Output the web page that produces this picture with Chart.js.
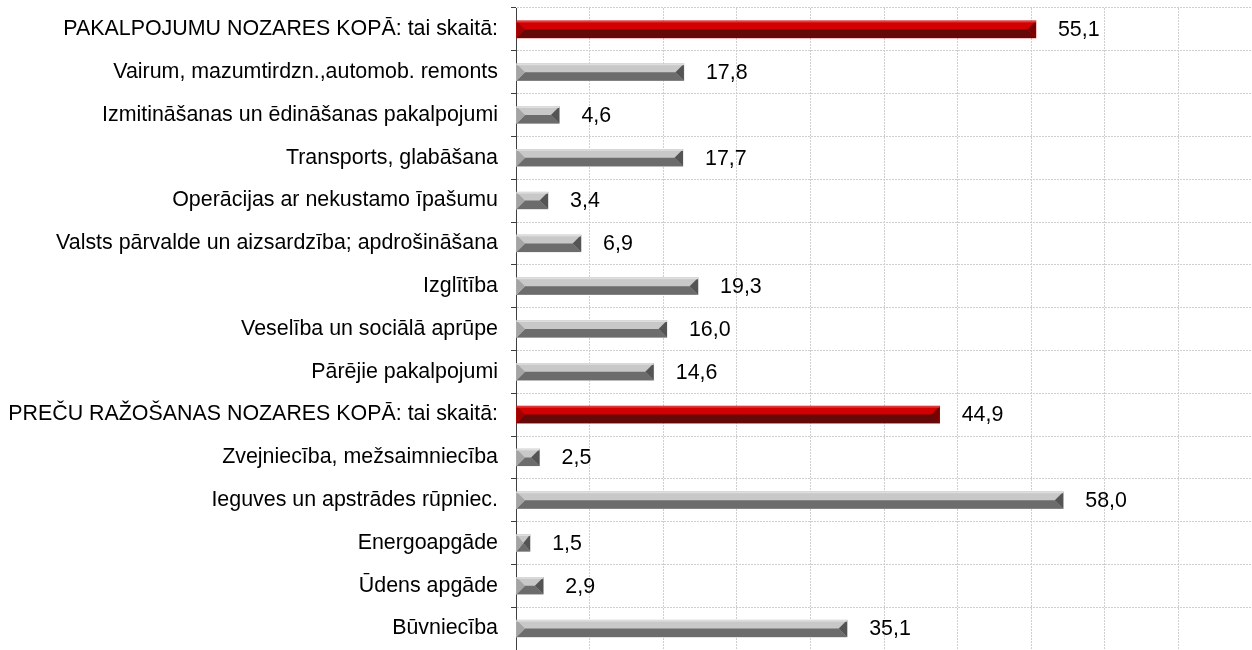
<!DOCTYPE html>
<html>
<head>
<meta charset="utf-8">
<script src="https://cdn.jsdelivr.net/npm/chart.js@4"></script>
<style>
  html, body { margin: 0; padding: 0; background: #fff; }
  #wrap { width: 1252px; height: 650px; }
</style>
</head>
<body>
<div id="wrap"><canvas id="myChart"></canvas></div>
<script>
// nozares
var categories = [
	'PAKALPOJUMU NOZARES KOPĀ: tai skaitā:',
	'Vairum, mazumtirdzn.,automob. remonts',
	'Izmitināšanas un ēdināšanas pakalpojumi',
	'Transports, glabāšana',
	'Operācijas ar nekustamo īpašumu',
	'Valsts pārvalde un aizsardzība; apdrošināšana',
	'Izglītība',
	'Veselība un sociālā aprūpe',
	'Pārējie pakalpojumi',
	'PREČU RAŽOŠANAS NOZARES KOPĀ: tai skaitā:',
	'Zvejniecība, mežsaimniecība',
	'Ieguves un apstrādes rūpniec.',
	'Energoapgāde',
	'Ūdens apgāde',
	'Būvniecība'
]
var values = [55.1, 17.8, 4.6, 17.7, 3.4, 6.9, 19.3, 16.0, 14.6, 44.9, 2.5, 58.0, 1.5, 2.9, 35.1]
var isTotal = [true, false, false, false, false, false, false, false, false, true, false, false, false, false, false]

var axisMax = 78
var axisStep = 7.8

var grayFaces = { top: '#c8c8c8', edge: '#dedede', bottom: '#6c6c6c', left: '#a4a4a4', right: '#545454' }
var redFaces = { top: '#d20000', edge: '#e04040', bottom: '#650808', left: '#a00000', right: '#7a0000' }

function faces(i) { return isTotal[i] ? redFaces : grayFaces }

// рисуем "объемные" торцы поверх столбцов
var bevelPlugin = {
	id: 'bevel',
	afterDatasetsDraw: function (chart) {
		var c = chart.ctx
		chart.getDatasetMeta(0).data.forEach(function (el, i) {
			var f = faces(i)
			var x0 = el.base, x1 = el.x
			var y0 = el.y - el.height / 2, y1 = el.y + el.height / 2, ym = el.y
			var w = Math.min(el.height / 2, (x1 - x0) / 2)
			c.save()
			c.fillStyle = f.bottom
			c.beginPath()
			c.moveTo(x0 + w, ym); c.lineTo(x1 - w, ym); c.lineTo(x1, y1); c.lineTo(x0, y1)
			c.closePath(); c.fill()
			c.fillStyle = f.left
			c.beginPath()
			c.moveTo(x0, y0); c.lineTo(x0 + w, ym); c.lineTo(x0, y1)
			c.closePath(); c.fill()
			c.fillStyle = f.right
			c.beginPath()
			c.moveTo(x1, y0); c.lineTo(x1, y1); c.lineTo(x1 - w, ym)
			c.closePath(); c.fill()
			c.fillStyle = f.edge
			c.fillRect(x0, y0, x1 - x0, 1.5)
			c.restore()
		})
	}
}

// подписи значений справа от столбцов
var labelPlugin = {
	id: 'valueLabels',
	afterDatasetsDraw: function (chart) {
		var c = chart.ctx
		c.save()
		c.font = '21.4px "Liberation Sans", Arial, sans-serif'
		c.fillStyle = '#000'
		c.textAlign = 'left'
		c.textBaseline = 'middle'
		chart.getDatasetMeta(0).data.forEach(function (el, i) {
			c.fillText(values[i].toFixed(1).replace('.', ','), el.x + 22, el.y + 1)
		})
		c.restore()
	}
}

new Chart(document.getElementById('myChart'), {
	type: 'bar',
	data: {
		labels: categories,
		datasets: [{
			data: values,
			backgroundColor: function (ctx) { return faces(ctx.dataIndex).top },
			borderWidth: 0,
			barThickness: 17
		}]
	},
	plugins: [bevelPlugin, labelPlugin],
	options: {
		indexAxis: 'y',
		responsive: true,
		maintainAspectRatio: false,
		animation: false,
		layout: { autoPadding: false, padding: { top: 8, right: 0, bottom: -4, left: 0 } },
		plugins: { legend: { display: false }, tooltip: { enabled: false } },
		scales: {
			x: {
				min: 0,
				max: axisMax,
				afterFit: function (scale) {
					scale.height = 0
					scale.paddingLeft = 0; scale.paddingRight = 0; scale.paddingTop = 0; scale.paddingBottom = 0
				},
				ticks: { display: false, stepSize: axisStep },
				grid: { color: '#cfcfcf', lineWidth: 1, drawTicks: false },
				border: { display: false, dash: [2, 1] }
			},
			y: {
				offset: true,
				afterFit: function (scale) {
					scale.width = 516
					scale.paddingLeft = 0; scale.paddingRight = 0; scale.paddingTop = 0; scale.paddingBottom = 0
				},
				ticks: {
					color: '#000',
					padding: 13,
					font: { family: '"Liberation Sans", Arial, sans-serif', size: 21.4 }
				},
				grid: { offset: true, color: '#cfcfcf', tickColor: '#404040', tickLength: 5, lineWidth: 1 },
				border: { display: true, color: '#404040', width: 1, dash: [2, 1] }
			}
		}
	}
})
</script>
</body>
</html>
